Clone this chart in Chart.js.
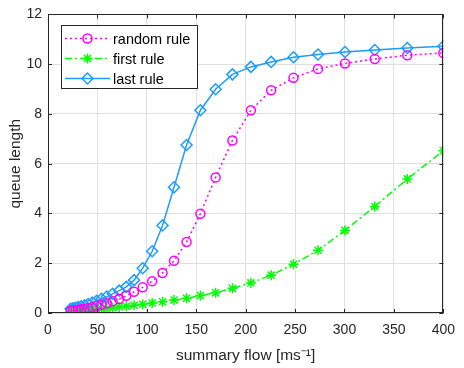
<!DOCTYPE html>
<html>
<head>
<meta charset="utf-8">
<script src="https://cdn.jsdelivr.net/npm/chart.js@4/dist/chart.umd.min.js"></script>
<style>
  html, body { margin: 0; padding: 0; background: #fff; }
  #wrap { width: 464px; height: 368px; }
</style>
</head>
<body>
<div id="wrap"><canvas id="c" width="464" height="368"></canvas></div>
<script>
// data
const flow = [22.9, 25.2, 27.8, 30.5, 33.6, 36.9, 40.6, 44.7, 49.2, 54.1, 59.5, 65.4, 72.0, 79.2, 87.1, 95.8, 105.4, 115.9, 127.5, 140.2, 154.2, 169.6, 186.6, 205.3, 225.8, 248.4, 273.2, 300.5, 330.6, 363.6, 400];
const randomRule = [0.09, 0.10, 0.11, 0.13, 0.15, 0.17, 0.20, 0.23, 0.28, 0.33, 0.39, 0.47, 0.56, 0.69, 0.85, 1.03, 1.28, 1.61, 2.10, 2.85, 3.99, 5.45, 6.93, 8.15, 8.95, 9.45, 9.81, 10.03, 10.21, 10.36, 10.45];
const firstRule = [0.05, 0.05, 0.06, 0.07, 0.08, 0.09, 0.10, 0.12, 0.14, 0.16, 0.18, 0.21, 0.24, 0.27, 0.31, 0.35, 0.40, 0.45, 0.52, 0.59, 0.70, 0.81, 0.99, 1.21, 1.52, 1.96, 2.52, 3.32, 4.28, 5.39, 6.52];
const lastRule = [0.17, 0.19, 0.21, 0.24, 0.27, 0.31, 0.36, 0.42, 0.49, 0.57, 0.66, 0.77, 0.90, 1.05, 1.32, 1.80, 2.48, 3.52, 5.05, 6.75, 8.15, 8.99, 9.59, 9.89, 10.09, 10.28, 10.39, 10.49, 10.57, 10.65, 10.72];
const xTicks = [0, 50, 100, 150, 200, 250, 300, 350, 400];
const yTicks = [0, 2, 4, 6, 8, 10, 12];

const FONT = "'Liberation Sans', Arial, Helvetica, sans-serif";
const AXIS = '#262626';

function pts(ys) { return flow.map((f, i) => ({ x: f, y: ys[i] })); }

// box, inward ticks and legend, matlab style
const frame = {
  id: 'frame',
  afterDraw(chart) {
    const { ctx, chartArea: a, scales: { x, y } } = chart;
    ctx.save();
    ctx.strokeStyle = AXIS;
    ctx.lineWidth = 1;
    ctx.strokeRect(Math.round(a.left) + 0.5, Math.round(a.top) + 0.5, Math.round(a.width) - 1, Math.round(a.height) - 1);
    ctx.beginPath();
    xTicks.forEach(v => {
      const px = Math.round(x.getPixelForValue(v)) + 0.5;
      ctx.moveTo(px, a.bottom); ctx.lineTo(px, a.bottom - 4);
      ctx.moveTo(px, a.top); ctx.lineTo(px, a.top + 4);
    });
    yTicks.forEach(v => {
      const py = Math.round(y.getPixelForValue(v)) + 0.5;
      ctx.moveTo(a.left, py); ctx.lineTo(a.left + 4, py);
      ctx.moveTo(a.right, py); ctx.lineTo(a.right - 4, py);
    });
    ctx.stroke();

    // legend box
    const lx = 61, ly = 25, lw = 136, lh = 63;
    ctx.fillStyle = '#fff';
    ctx.fillRect(lx, ly, lw, lh);
    ctx.strokeStyle = AXIS;
    ctx.strokeRect(lx + 0.5, ly + 0.5, lw, lh);
    chart.data.datasets.forEach((ds, i) => {
      const ry = 38.5 + i * 20;
      ctx.strokeStyle = ds.borderColor;
      ctx.lineWidth = ds.borderWidth;
      ctx.setLineDash(ds.borderDash || []);
      ctx.beginPath();
      ctx.moveTo(65, ry); ctx.lineTo(110, ry);
      ctx.stroke();
      ctx.setLineDash([]);
      ctx.fillStyle = 'rgba(0,0,0,0)';
      ctx.lineWidth = ds.pointBorderWidth;
      Chart.helpers.drawPoint(ctx, { pointStyle: ds.pointStyle, radius: ds.pointRadius, rotation: 0, borderWidth: ds.pointBorderWidth }, 87.5, ry);
      ctx.fillStyle = '#000';
      ctx.font = '14.5px ' + FONT;
      ctx.textBaseline = 'middle';
      ctx.fillText(ds.label, 113, ry + 1);
    });
    ctx.restore();
  }
};

new Chart(document.getElementById('c'), {
  type: 'line',
  data: {
    datasets: [
      { label: 'random rule', data: pts(randomRule), borderColor: '#ff00ff', borderWidth: 1.5, borderDash: [2, 3],
        pointStyle: 'circle', pointRadius: 4.5, pointBorderWidth: 1.5, pointBackgroundColor: 'rgba(0,0,0,0)', pointBorderColor: '#ff00ff' },
      { label: 'first rule', data: pts(firstRule), borderColor: '#00ff00', borderWidth: 1.5, borderDash: [7, 3, 2, 3],
        pointStyle: 'star', pointRadius: 5, pointBorderWidth: 1.5, pointBackgroundColor: 'rgba(0,0,0,0)', pointBorderColor: '#00ff00' },
      { label: 'last rule', data: pts(lastRule), borderColor: '#1c9cff', borderWidth: 1.5,
        pointStyle: 'rectRot', pointRadius: 5.5, pointBorderWidth: 1.5, pointBackgroundColor: 'rgba(0,0,0,0)', pointBorderColor: '#1c9cff' }
    ]
  },
  options: {
    responsive: false,
    animation: false,
    devicePixelRatio: 1,
    layout: { padding: { top: 13, right: 12, left: 0, bottom: 0 } },
    plugins: { legend: { display: false }, tooltip: { enabled: false } },
    elements: { line: { tension: 0, fill: false } },
    scales: {
      x: {
        type: 'linear', min: 0, max: 400,
        afterBuildTicks: s => { s.ticks = xTicks.map(v => ({ value: v })); },
        afterFit: s => { s.height = 55; },
        grid: { color: '#dfdfdf', drawTicks: false },
        border: { display: false },
        ticks: { padding: 9, color: AXIS, font: { family: FONT, size: 14 } },
        title: { display: true, text: 'summary flow [ms⁻¹]', color: AXIS, font: { family: FONT, size: 15.5 }, padding: { top: 0, bottom: 3 } }
      },
      y: {
        min: 0, max: 12,
        afterBuildTicks: s => { s.ticks = yTicks.map(v => ({ value: v })); },
        afterFit: s => { s.width = 48; },
        grid: { color: '#dfdfdf', drawTicks: false },
        border: { display: false },
        ticks: { padding: 6, color: AXIS, font: { family: FONT, size: 14 } },
        title: { display: true, text: 'queue length', color: AXIS, font: { family: FONT, size: 15.5 }, padding: { top: 6, bottom: 0 } }
      }
    }
  },
  plugins: [frame]
});
</script>
</body>
</html>
